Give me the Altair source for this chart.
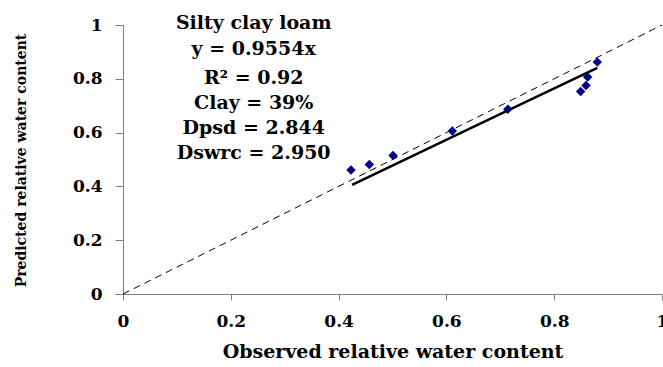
import altair as alt
import pandas as pd

# Observed vs predicted relative water content
observed = [0.423, 0.457, 0.501, 0.611, 0.714, 0.849, 0.859, 0.862, 0.880]
predicted = [0.461, 0.481, 0.515, 0.606, 0.687, 0.753, 0.775, 0.807, 0.862]

# Regression line y = 0.9554x over observed range
slope = 0.9554
fit_x = [0.425, 0.880]

# 1:1 line
one_x = [0.0, 1.0]

# annotation lines
ann_text = ["Silty clay loam", "y = 0.9554x", "R\u00b2 = 0.92", "Clay = 39%",
            "Dpsd = 2.844", "Dswrc = 2.950"]
ann_x = [0.2425] * 6
ann_y = [1.009, 0.911, 0.803, 0.710, 0.617, 0.524]

FONT = "DejaVu Serif"

pts = pd.DataFrame({"x": observed, "y": predicted})
fit = pd.DataFrame({"x": fit_x, "y": [slope * v for v in fit_x]})
one = pd.DataFrame({"x": one_x, "y": one_x})
ann = pd.DataFrame({"x": ann_x, "y": ann_y, "t": ann_text})

xscale = alt.Scale(domain=[0, 1], nice=False, zero=True)
yscale = alt.Scale(domain=[0, 1], nice=False, zero=True)

xaxis = alt.Axis(values=[0, 0.2, 0.4, 0.6, 0.8, 1], format="~g", title="Observed relative water content",
                 grid=False, domainColor="#808080", tickColor="#808080", tickSize=6,
                 labelFont=FONT, labelFontSize=17, labelFontWeight="bold", labelColor="black",
                 labelPadding=13, labelFlush=False,
                 titleFont=FONT, titleFontSize=19, titleFontWeight="bold", titleColor="black",
                 titlePadding=13)
yaxis = alt.Axis(values=[0, 0.2, 0.4, 0.6, 0.8, 1], format="~g", title="Predicted relative water content",
                 grid=False, domainColor="#808080", tickColor="#808080", tickSize=8,
                 labelFont=FONT, labelFontSize=17, labelFontWeight="bold", labelColor="black",
                 labelPadding=13, labelFlush=False,
                 titleFont=FONT, titleFontSize=14, titleFontWeight="bold", titleColor="black",
                 titleX=-95, titleY=135)

dash = alt.Chart(one).mark_line(color="black", strokeWidth=1, strokeDash=[7, 5]).encode(
    x=alt.X("x:Q", scale=xscale, axis=xaxis),
    y=alt.Y("y:Q", scale=yscale, axis=yaxis),
)
fitline = alt.Chart(fit).mark_line(color="black", strokeWidth=2.5).encode(
    x=alt.X("x:Q", scale=xscale), y=alt.Y("y:Q", scale=yscale)
)
points = alt.Chart(pts).mark_point(shape="diamond", filled=True, color="#000080", size=90, opacity=1).encode(
    x=alt.X("x:Q", scale=xscale), y=alt.Y("y:Q", scale=yscale)
)
texts = alt.Chart(ann).mark_text(font=FONT, fontSize=19, fontWeight="bold", color="black",
                                 align="center", baseline="middle").encode(
    x=alt.X("x:Q", scale=xscale), y=alt.Y("y:Q", scale=yscale), text="t:N"
)

chart = alt.layer(dash, fitline, points, texts).properties(
    width=539, height=269,
    autosize=alt.AutoSizeParams(type="none"),
    padding={"left": 123, "top": 25, "right": 1, "bottom": 73},
    background="white",
).configure_view(stroke=None)

chart.save("out.html", embed_options={"renderer": "svg", "actions": False})
